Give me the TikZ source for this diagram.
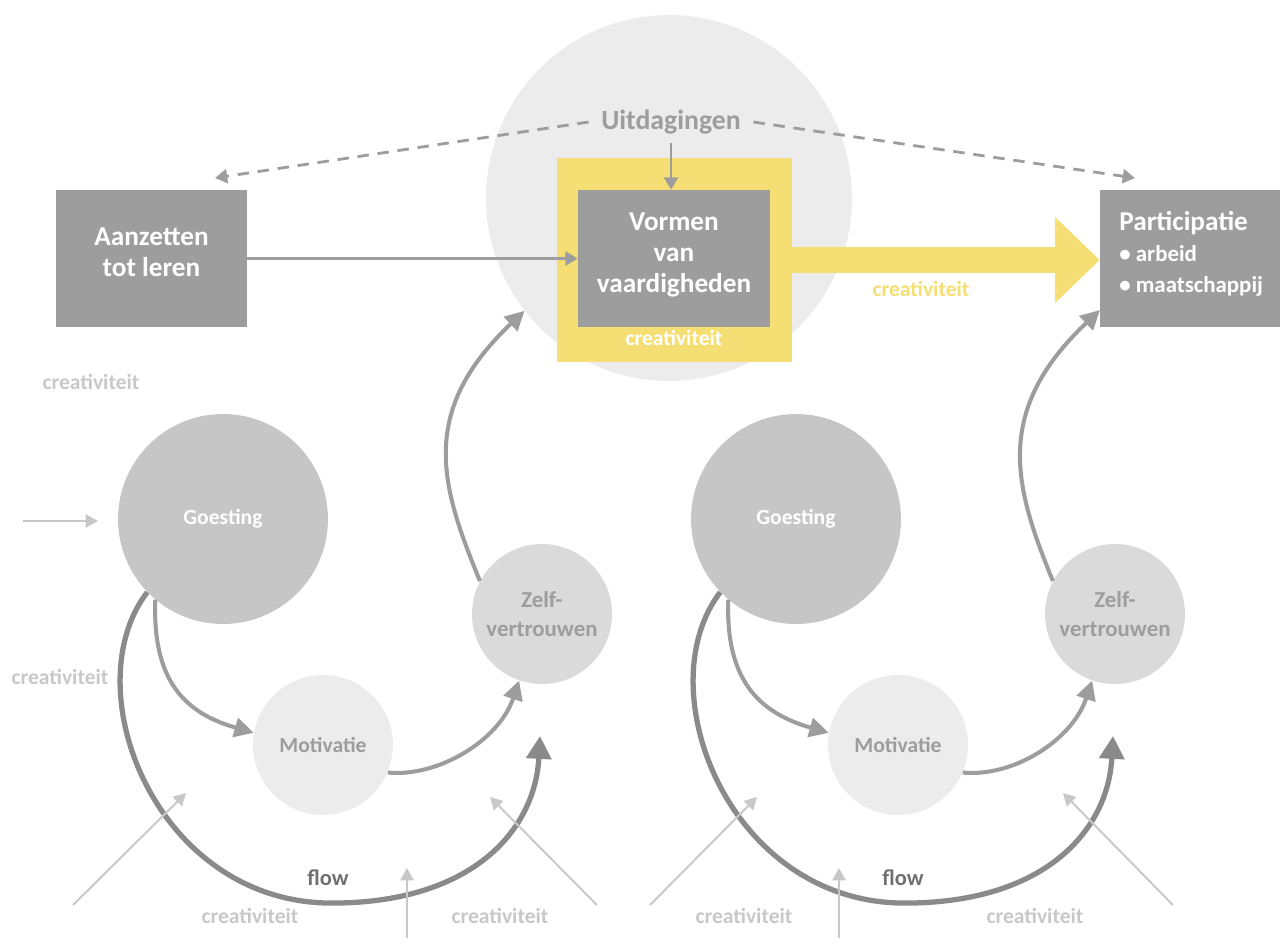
\documentclass[tikz,border=0pt]{standalone}
\usepackage{fontspec}
\setmainfont{Carlito}
\usetikzlibrary{arrows.meta}
\definecolor{boxgray}{HTML}{9D9D9D}
\definecolor{bigc}{HTML}{ECECEC}
\definecolor{goesc}{HTML}{C6C6C6}
\definecolor{zelfc}{HTML}{DADADA}
\definecolor{motic}{HTML}{ECECEC}
\definecolor{yel}{HTML}{F5DE74}
\definecolor{lightg}{HTML}{C8C8C8}
\definecolor{flowc}{HTML}{8A8A8A}
\definecolor{flowt}{HTML}{707070}
\tikzset{
  gbox/.style={fill=boxgray, draw=none, minimum width=3.84cm, minimum height=2.74cm, inner sep=0pt},
  boxtext/.style={align=center, text=white, font=\fontsize{15.5}{17.8}\selectfont\bfseries, inner sep=0pt},
  circ/.style={circle, draw=none, inner sep=0pt, align=center},
  crea/.style={text=lightg, font=\fontsize{12.3}{14}\selectfont\bfseries, inner sep=0pt},
  midarrow/.style={draw=boxgray, line width=2.3pt, -{Triangle[length=11pt,width=11pt]}},
  flowarrow/.style={draw=flowc, line width=3pt, -{Triangle[length=13pt,width=14pt]}},
  lightarrow/.style={draw=lightg, line width=1.1pt, -{Triangle[length=7pt,width=7.5pt]}},
  dasharrow/.style={draw=boxgray, line width=1.6pt, dash pattern=on 6.5pt off 5pt, -{Triangle[length=7pt,width=8pt]}},
  thinarrow/.style={draw=boxgray, line width=1.3pt, -{Triangle[length=7pt,width=8pt]}},
  goestext/.style={text=white, font=\fontsize{12.3}{14}\selectfont\bfseries},
  motitext/.style={text=boxgray, font=\fontsize{12.3}{14}\selectfont\bfseries},
  zelftext/.style={text=boxgray, font=\fontsize{13}{16.4}\selectfont\bfseries},
}
\begin{document}
\begin{tikzpicture}[x=0.02cm,y=-0.02cm]
\useasboundingbox (0,0) rectangle (1280,938);
% top
\node[circ, fill=bigc, minimum size=7.32cm] (U) at (669,198) {};
\node[text=boxgray, font=\fontsize{15.8}{17}\selectfont\bfseries, inner xsep=7pt, inner ysep=5pt] (Ut) at (671,122) {Uitdagingen};
\node[fill=yel, minimum width=4.7cm, minimum height=4.08cm, inner sep=0pt] (Y) at (674.5,260) {};
\node[gbox] (V) at (674,258.5) {};
\node[boxtext] (Vt) at (674,255) {Vormen\\van\\vaardigheden};
\node[text=white, font=\fontsize{12.3}{14}\selectfont\bfseries, inner sep=0pt] (Yc) at (674,338) {creativiteit};
\node[gbox, minimum width=3.82cm] (A) at (151.5,258.5) {};
\node[boxtext] (At) at (151.5,252) {Aanzetten\\tot leren};
\node[gbox, minimum width=3.6cm] (P) at (1190,258.5) {};
\node[anchor=west, align=left, text=white, inner sep=0pt, font=\fontsize{13}{17.8}\selectfont\bfseries] (Pt) at (1119,254) {{\fontsize{15.5}{17.8}\selectfont Participatie}\\• arbeid\\• maatschappij};
\coordinate (dl) at (215,178);
\coordinate (dr) at (1135,178);
\draw[dasharrow] (Ut.west) -- (dl);
\draw[dasharrow] (Ut.east) -- (dr);
\draw[thinarrow] (Ut.south) -- (Ut.south |- V.north);
\draw[thinarrow] (A.east) -- (A.east -| V.west);
\draw[draw=yel, line width=15.3pt, -{Triangle[length=25.5pt,width=47.6pt]}] (Y.east) -- (Y.east -| P.west);
\node[text=yel, font=\fontsize{12.3}{14}\selectfont\bfseries, inner sep=0pt] (yc) at (921,289) {creativiteit};
% left group
\node[circ, fill=goesc, minimum size=4.2cm, goestext] (G1) at (223,519) {Goesting};
\node[circ, fill=motic, minimum size=2.8cm, motitext] (M1) at (323,745) {Motivatie};
\node[circ, fill=zelfc, minimum size=2.8cm, zelftext] (Z1) at (542,614) {Zelf-\\vertrouwen};
\draw[midarrow] (G1.230) .. controls +(-3,80) and +(-70,-20) .. (M1.170);
\draw[midarrow] (M1.-23) .. controls +(50,5) and +(-20,60) .. (Z1.-109);
\draw[midarrow] (Z1.152) .. controls +(-38,-93) and +(-108,102) .. (U.218);
\coordinate (fb1) at (338,903);
\coordinate (ft1) at (540,736);
\draw[flowarrow] (G1.224) .. controls +(-75,98) and +(-180,5) .. (fb1) .. controls +(135,-2) and +(-5,94) .. (ft1);
\node[text=flowt, font=\fontsize{12.8}{14}\selectfont\bfseries, inner sep=0pt] (fl1) at (328,878) {flow};
\coordinate (a1s) at (23,521); \coordinate (a1e) at (98,521);
\coordinate (b1s) at (73,905); \coordinate (b1e) at (186,793);
\coordinate (c1s) at (407,938); \coordinate (c1e) at (407,868);
\coordinate (d1s) at (597,905); \coordinate (d1e) at (490,797);
\draw[lightarrow] (a1s) -- (a1e);
\draw[lightarrow] (b1s) -- (b1e);
\draw[lightarrow] (c1s) -- (c1e);
\draw[lightarrow] (d1s) -- (d1e);
\node[crea] (k1) at (91,382) {creativiteit};
\node[crea] (k2) at (60,677) {creativiteit};
\node[crea] (k3) at (250,916) {creativiteit};
\node[crea] (k4) at (500,916) {creativiteit};
% right group
\node[circ, fill=goesc, minimum size=4.2cm, goestext] (G2) at (796,519) {Goesting};
\node[circ, fill=motic, minimum size=2.8cm, motitext] (M2) at (898,745) {Motivatie};
\node[circ, fill=zelfc, minimum size=2.8cm, zelftext] (Z2) at (1115,614) {Zelf-\\vertrouwen};
\draw[midarrow] (G2.230) .. controls +(-3,80) and +(-70,-20) .. (M2.170);
\draw[midarrow] (M2.-23) .. controls +(50,5) and +(-20,60) .. (Z2.-109);
\coordinate (pin) at (1100,310);
\draw[midarrow] (Z2.152) .. controls +(-38,-93) and +(-108,102) .. (pin);
\coordinate (fb2) at (911,903);
\coordinate (ft2) at (1113,736);
\draw[flowarrow] (G2.224) .. controls +(-75,98) and +(-180,5) .. (fb2) .. controls +(135,-2) and +(-5,94) .. (ft2);
\node[text=flowt, font=\fontsize{12.8}{14}\selectfont\bfseries, inner sep=0pt] (fl2) at (903,878) {flow};
\coordinate (b2s) at (650,905); \coordinate (b2e) at (757,797);
\coordinate (c2s) at (839,938); \coordinate (c2e) at (839,868);
\coordinate (d2s) at (1173,905); \coordinate (d2e) at (1063,793);
\draw[lightarrow] (b2s) -- (b2e);
\draw[lightarrow] (c2s) -- (c2e);
\draw[lightarrow] (d2s) -- (d2e);
\node[crea] (k5) at (744,916) {creativiteit};
\node[crea] (k6) at (1035,916) {creativiteit};
\end{tikzpicture}
\end{document}
